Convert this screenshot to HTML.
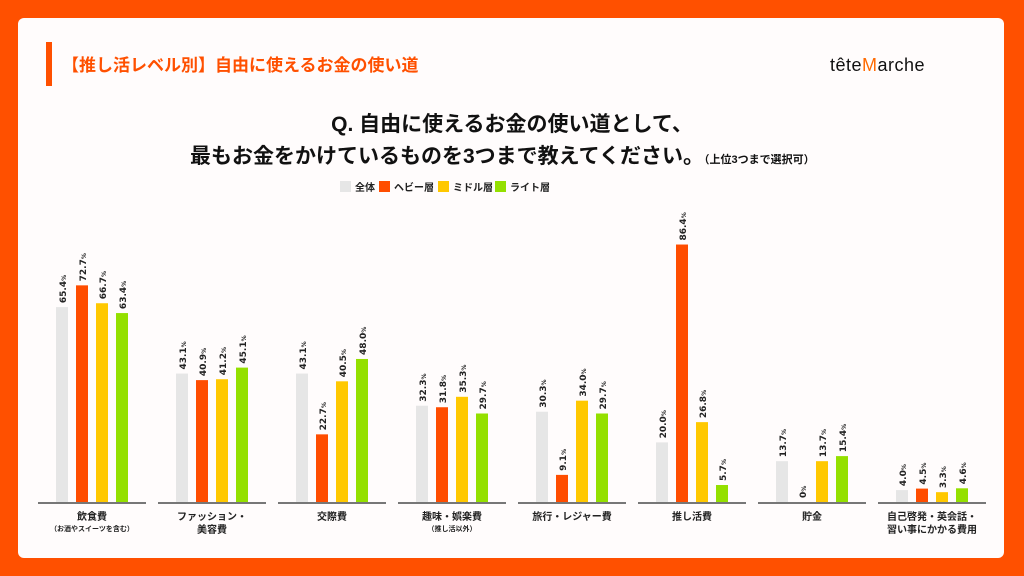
<!DOCTYPE html>
<html><head><meta charset="utf-8"><style>
html,body{margin:0;padding:0;width:1024px;height:576px;overflow:hidden;background:#ff5000;}
svg{display:block;font-family:"Liberation Sans","Noto Sans CJK JP",sans-serif;}
</style></head><body>
<svg id="s" width="1024" height="576" xmlns="http://www.w3.org/2000/svg">
<rect x="18" y="18" width="986" height="540" rx="6" fill="#fffcfc"/>
<rect x="46" y="42" width="6" height="44" fill="#ff5000"/>
<text x="62" y="71" font-size="17" font-weight="bold" fill="#ff5000">【推し活レベル別】自由に使えるお金の使い道</text>
<text x="830" y="71" font-size="18" fill="#111" letter-spacing="0.5">tête<tspan fill="#ff6a00">M</tspan>arche</text>
<text x="512" y="131" font-size="21" font-weight="bold" fill="#111" text-anchor="middle">Q. 自由に使えるお金の使い道として、</text>
<text x="190" y="163" font-size="21" font-weight="bold" fill="#111">最もお金をかけているものを3つまで教えてください。<tspan font-size="11">（上位3つまで選択可）</tspan></text>
<g font-size="10" font-weight="bold" fill="#222">
<rect x="340" y="181" width="11" height="11" fill="#e6e6e6"/><text x="355" y="191">全体</text>
<rect x="379" y="181" width="11" height="11" fill="#ff4d00"/><text x="394" y="191">ヘビー層</text>
<rect x="438" y="181" width="11" height="11" fill="#ffc800"/><text x="453" y="191">ミドル層</text>
<rect x="495" y="181" width="11" height="11" fill="#94e000"/><text x="510" y="191">ライト層</text>
</g>
<g id="c"></g>
</svg>
<script>
var d=[[65.4,72.7,66.7,63.4],[43.1,40.9,41.2,45.1],[43.1,22.7,40.5,48.0],[32.3,31.8,35.3,29.7],[30.3,9.1,34.0,29.7],[20.0,86.4,26.8,5.7],[13.7,0,13.7,15.4],[4.0,4.5,3.3,4.6]];
var lab=[["飲食費","（お酒やスイーツを含む）"],["ファッション・","美容費"],["交際費"],["趣味・娯楽費","（推し活以外）"],["旅行・レジャー費"],["推し活費"],["貯金"],["自己啓発・英会話・","習い事にかかる費用"]];
var col=["#e6e6e6","#ff4d00","#ffc800","#94e000"];
var h="",B=502,k=2.98;
for(var g=0;g<8;g++){
 var x0=56+g*120;
 h+='<rect x="'+(x0-18)+'" y="'+B+'" width="108" height="2" fill="#777"/>';
 for(var i=0;i<4;i++){
  var v=d[g][i],x=x0+i*20,hh=v*k,t=B-hh;
  if(hh>0)h+='<rect x="'+x+'" y="'+t+'" width="12" height="'+hh+'" fill="'+col[i]+'"/>';
  var s=(v==0?"0":v.toFixed(1));
  h+='<text transform="translate('+(x+10)+','+(t-4)+') rotate(-90)" font-family="DejaVu Sans,sans-serif" font-size="9" font-weight="bold" fill="#222">'+s+'<tspan font-size="6">%</tspan></text>';
 }
 var cx=x0+36,L=lab[g];
 if(L.length==2&&L[1].charAt(0)=="（"){
  h+='<text x="'+cx+'" y="520" font-size="10" font-weight="bold" text-anchor="middle" fill="#222">'+L[0]+'</text>';
  h+='<text x="'+cx+'" y="531" font-size="7" font-weight="bold" text-anchor="middle" fill="#222">'+L[1]+'</text>';
 }else{
  for(var j=0;j<L.length;j++)h+='<text x="'+cx+'" y="'+(520+j*13)+'" font-size="10" font-weight="bold" text-anchor="middle" fill="#222">'+L[j]+'</text>';
 }
}
document.getElementById("c").innerHTML=h;
</script>
</body></html>
